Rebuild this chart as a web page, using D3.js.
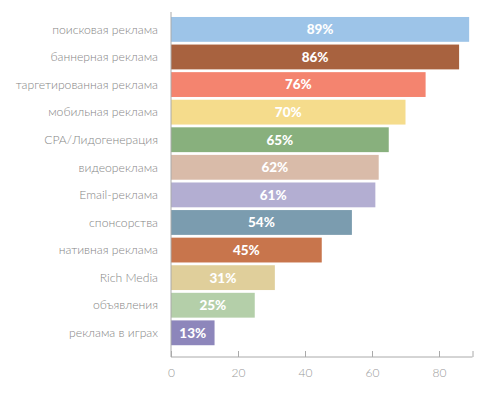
<!DOCTYPE html>
<html>
<head>
<meta charset="utf-8">
<script src="https://cdn.jsdelivr.net/npm/d3@7"></script>
<style>
  body { margin: 0; background: #fff; }
  .cat { font-family: Lato, "Open Sans", sans-serif; font-weight: 300; font-size: 12.2px; fill: #858585; }
  .val { font-family: Lato, "Open Sans", sans-serif; font-weight: 900; font-size: 13.5px; fill: #fff; }
  .tick text { font-family: Lato, "Open Sans", sans-serif; font-weight: 300; font-size: 12px; fill: #999; }
</style>
</head>
<body>
<script>
// data
var categories = ["поисковая реклама", "баннерная реклама", "таргетированная реклама",
  "мобильная реклама", "CPA/Лидогенерация", "видеореклама", "Email-реклама",
  "спонсорства", "нативная реклама", "Rich Media", "объявления", "реклама в играх"];
var values = [89, 86, 76, 70, 65, 62, 61, 54, 45, 31, 25, 13];
var colors = ["#9dc4e8", "#a8623f", "#f4846f", "#f5dc8c", "#88b07d", "#d9bba9", "#b3aed2",
  "#7b9caf", "#c8754c", "#e0cf9b", "#b4cfa9", "#8d86bb"];
var tickValues = [0, 20, 40, 60, 80];

var width = 491, height = 395;
var x0 = 171, x1 = 472.5;
var axisY = 357;

var svg = d3.select("body").append("svg")
  .attr("width", width)
  .attr("height", height);

var x = d3.scaleLinear().domain([0, 90]).range([x0, x1]);
var y = d3.scaleBand().domain(categories).range([15.6, 346.6])
  .paddingInner(0.1).paddingOuter(0.05);

// bars
svg.selectAll("rect.bar")
  .data(values)
  .enter().append("rect")
  .attr("class", "bar")
  .attr("x", x(0))
  .attr("y", function(d, i) { return y(categories[i]); })
  .attr("width", function(d) { return x(d) - x(0); })
  .attr("height", y.bandwidth())
  .attr("fill", function(d, i) { return colors[i]; });

// value labels
svg.selectAll("text.val")
  .data(values)
  .enter().append("text")
  .attr("class", "val")
  .attr("x", function(d) { return (x(d) + x(0)) / 2; })
  .attr("y", function(d, i) { return y(categories[i]) + y.bandwidth() / 2; })
  .attr("dy", "0.36em")
  .attr("text-anchor", "middle")
  .text(function(d) { return d + "%"; });

// category labels
svg.selectAll("text.cat")
  .data(categories)
  .enter().append("text")
  .attr("class", "cat")
  .attr("x", 158)
  .attr("y", function(d) { return y(d) + y.bandwidth() / 2; })
  .attr("dy", "0.35em")
  .attr("text-anchor", "end")
  .text(function(d) { return d; });

// vertical axis line
svg.append("line")
  .attr("x1", x0).attr("x2", x0)
  .attr("y1", 12).attr("y2", axisY)
  .attr("stroke", "#aaa")
  .attr("stroke-width", 1);

// x axis, ticks point up
var xAxis = d3.axisBottom(x)
  .tickValues(tickValues.concat([90]))
  .tickSize(-6)
  .tickPadding(11)
  .tickFormat(function(d) { return tickValues.indexOf(d) >= 0 ? d : ""; });

var gx = svg.append("g")
  .attr("transform", "translate(0," + axisY + ")")
  .call(xAxis);
gx.select(".domain").attr("stroke", "#aaa").attr("d", "M" + x0 + ",0H" + x1);
gx.selectAll(".tick line").attr("stroke", "#aaa");
</script>
</body>
</html>
